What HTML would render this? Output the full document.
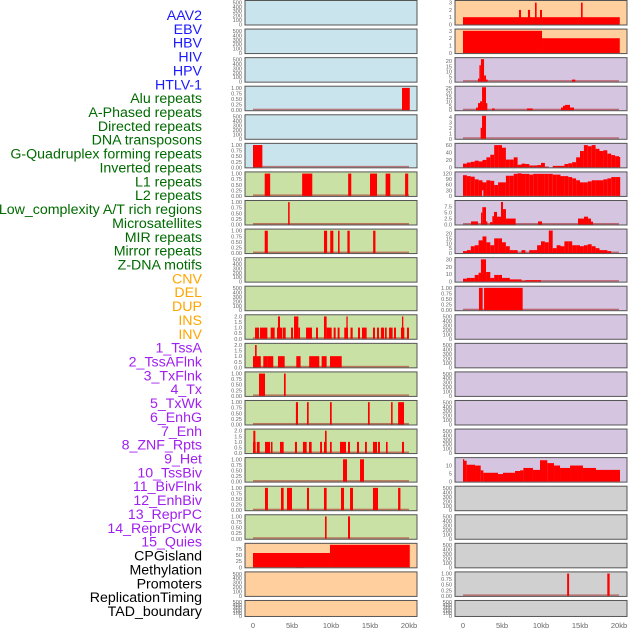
<!DOCTYPE html>
<html><head><meta charset="utf-8"><style>
html,body{margin:0;padding:0;background:#fff;}
svg{display:block;font-family:"Liberation Sans",sans-serif;}
</style></head><body>
<svg id="chart" width="630" height="630" viewBox="0 0 630 630"></svg>
<script>
// ---------- labels ----------
const trackLabels = ["AAV2","EBV","HBV","HIV","HPV","HTLV-1","Alu repeats","A-Phased repeats","Directed repeats","DNA transposons","G-Quadruplex forming repeats","Inverted repeats","L1 repeats","L2 repeats","Low_complexity A/T rich regions","Microsatellites","MIR repeats","Mirror repeats","Z-DNA motifs","CNV","DEL","DUP","INS","INV","1_TssA","2_TssAFlnk","3_TxFlnk","4_Tx","5_TxWk","6_EnhG","7_Enh","8_ZNF_Rpts","9_Het","10_TssBiv","11_BivFlnk","12_EnhBiv","13_ReprPC","14_ReprPCWk","15_Quies","CPGisland","Methylation","Promoters","ReplicationTiming","TAD_boundary"];
const labelColorGroups = [[6,"#1a1aff"],[13,"#006a00"],[5,"#ffa500"],[15,"#a020f0"],[5,"#000000"]];
const xTicks = [0,5,10,15,20];
const xTickLabels = ["0","5kb","10kb","15kb","20kb"];

// ---------- tick sets ----------
const ticksEmpty = [0,100,200,300,400,500];
const ticksUnit = [0,0.25,0.5,0.75,1];
const ticksTwo = [0,0.5,1,1.5,2];

// ---------- left column data (segments [startKb,endKb,value]) ----------
const L4 = [[19.1,20.1,1]];
const L6 = [[0,1.2,1]];
const L7 = [[1.5,2.2,1],[6.3,7.6,1],[12.2,12.6,1],[15,15.9,1],[17,17.6,1],[19.5,19.9,1]];
const L8 = [[4.5,4.7,1]];
const L9 = [[1.5,1.9,1],[9.1,9.5,1],[9.9,10.3,1],[10.9,11.1,1],[12.1,12.4,1],[15.4,15.7,1]];
const L12 = [[0.26,0.77,1],[0.9,1.84,1],[2.26,2.78,1],[3.08,3.72,1],[3.2,3.46,2],[3.8,4.19,1],[4.87,5.13,1],[5.26,5.81,2],[5.81,6.03,1],[6.8,7.56,1],[8.08,8.33,1],[9.1,9.44,2],[9.44,10.09,1],[10.34,10.6,1],[10.85,11.1,1],[11.7,12.18,1],[11.97,12.14,2],[12.5,12.78,1],[13.46,13.72,1],[13.97,14.57,1],[15.38,15.64,1],[15.9,16.15,1],[16.4,16.8,1],[16.92,17.14,1],[17.44,17.9,1],[18.08,18.33,1],[18.97,19.4,1],[19.1,19.27,2],[19.74,20,1]];
const L13 = [[0,1.0,1],[0.26,0.47,2],[1.32,1.84,1],[1.84,2.6,1],[3.2,4.06,1],[5.55,6.1,1],[7.2,8.5,1],[8.8,9.44,1],[9.87,11.37,1]];
const L14 = [[0.77,1.54,1],[3.97,4.19,1]];
const L15 = [[5.5,5.77,1],[6.92,7.14,1],[9.87,10.09,1],[14.74,14.96,1],[17.7,17.9,1],[18.6,19.36,1]];
const L16 = [[0,0.34,1],[0.04,0.3,2],[0.5,0.85,1],[1.54,2.18,1],[2.3,2.5,1],[3.46,3.93,1],[5.38,5.64,1],[6.4,6.88,1],[7.18,7.52,1],[8.6,8.85,1],[9.1,9.44,1],[9.23,9.44,2],[9.87,10.09,1],[11.15,11.92,1],[12.18,12.44,1],[13.33,13.59,1],[14.36,14.6,1],[15.38,15.9,1],[16.03,16.28,1],[17.05,17.26,1],[19.1,19.36,1]];
const L17 = [[11.54,12.05,1],[13.72,14.23,1]];
const L18 = [[1.54,1.92,1],[3.59,3.93,1],[4.36,5.0,1],[6.92,7.18,1],[9.1,9.44,1],[11.28,11.67,1],[12.44,12.82,1],[15.38,16.03,1],[18.6,18.9,1]];
const L19 = [[9.23,9.44,1],[12.18,12.44,1]];
const L20 = [[0,9.87,58],[5.5,6.5,55],[9.87,20.1,91]];

// ---------- right column data ----------
const R1 = [[0,20.1,1],[7.18,7.44,2],[8.33,8.6,2],[9.87,10.13,2],[9.23,9.44,3],[15.13,15.34,3]];
const R2 = [[0,10.13,3],[10.13,20.1,2]];
const R3 = [[1.92,2.1,3],[2.1,2.3,16],[2.3,2.7,22],[2.7,2.95,6],[2.95,3.16,2],[13.97,14.4,2]];
const R4 = [[1.67,1.92,3],[1.92,2.18,8],[2.18,2.44,10],[2.44,2.95,26],[2.95,3.12,8],[3.72,4.06,2],[8.2,8.93,2],[12.56,12.82,3],[12.82,13.08,5],[13.08,13.72,6],[13.72,14.23,3]];
const R5 = [[2.26,2.44,2],[2.44,2.95,4.2]];
const R6bins = [10,13,15,18,16,20,27,34,60,60,53,21,21,27,7,10,9,5,5,6,12,2,0,4,4,4,9,11,14,27,44,60,57,60,50,44,46,37,33,30,28];
const R7bins = [110,105,102,88,83,72,83,80,58,72,72,107,107,117,120,117,117,113,117,117,117,117,117,113,113,105,105,100,93,83,72,72,77,83,83,83,88,93,100,100,100];
const R7 = [[2.45,2.6,30]];
const R8 = [[1.03,1.92,1.3],[2.31,2.48,5],[2.48,2.95,7.3],[2.95,3.12,1.3],[3.46,3.76,1],[3.76,3.97,3.5],[3.97,4.36,5.3],[4.36,4.87,3.3],[4.87,5.13,9.5],[5.13,5.51,6.5],[5.51,6.75,2.5],[9.62,10.13,1.3],[14.74,15.51,2.5],[15.51,16.03,3.3],[16.03,16.41,2.5],[16.41,16.67,1.2]];
const R9bins = [2,3,7,8,13,17,11,8,15,15,11,7,3,3,0,3,0,3,3,8,12,11,23,5,8,7,12,12,8,8,7,8,9,7,5,3,3,2,0,0];
const R10bins = [4,5,5,9,12,13,13,5,9,9,5,5,3,3,3,1,2,2,2,2];
const R10 = [[2.3,2.95,30]];
const R11 = [[2.05,2.52,1],[2.7,7.65,1]];
const R17 = [[0,0.13,14],[0.13,0.47,13],[0.47,1.54,10.5],[1.54,2.27,10],[2.27,2.61,7],[2.61,4.49,5.5],[4.49,5.13,4.7],[5.13,6.67,5.5],[6.67,7.31,6.6],[7.31,7.74,7],[7.74,8.97,8.5],[8.97,9.87,7.3],[9.87,10.81,13.3],[10.81,11.67,11.5],[11.67,12.44,10],[12.44,13.72,8.5],[13.72,15.38,10],[15.38,17.05,8.5],[17.05,20.13,7.3]];
const R21 = [[13.35,13.6,1],[18.5,18.8,1]];

const BLUE="#c9e4ec", GREEN="#c9e1a5", PEACH="#ffd09e", PURPLE="#d5c5e1", GREY="#d0d0d0";

function binsToSegs(b){const o=[];for(let i=0;i<b.length;i++){o.push([i*0.5,Math.min(i*0.5+0.5,20.1),b[i]]);}return o;}

const panels = [
 {c:0,r:0,bg:BLUE},{c:0,r:1,bg:BLUE},{c:0,r:2,bg:BLUE},
 {c:0,r:3,bg:BLUE,t:ticksUnit,d:2,m:1.03,s:L4},
 {c:0,r:4,bg:BLUE},
 {c:0,r:5,bg:BLUE,t:ticksUnit,d:2,m:1.03,s:L6},
 {c:0,r:6,bg:GREEN,t:ticksUnit,d:2,m:1.03,s:L7},
 {c:0,r:7,bg:GREEN,t:ticksUnit,d:2,m:1.03,s:L8},
 {c:0,r:8,bg:GREEN,t:ticksUnit,d:2,m:1.03,s:L9},
 {c:0,r:9,bg:GREEN},{c:0,r:10,bg:GREEN},
 {c:0,r:11,bg:GREEN,t:ticksTwo,d:1,m:2.06,s:L12},
 {c:0,r:12,bg:GREEN,t:ticksTwo,d:1,m:2.06,s:L13},
 {c:0,r:13,bg:GREEN,t:ticksUnit,d:2,m:1.03,s:L14},
 {c:0,r:14,bg:GREEN,t:ticksUnit,d:2,m:1.03,s:L15},
 {c:0,r:15,bg:GREEN,t:ticksTwo,d:1,m:2.06,s:L16},
 {c:0,r:16,bg:GREEN,t:ticksUnit,d:2,m:1.03,s:L17},
 {c:0,r:17,bg:GREEN,t:ticksUnit,d:2,m:1.03,s:L18},
 {c:0,r:18,bg:GREEN,t:ticksUnit,d:2,m:1.03,s:L19},
 {c:0,r:19,bg:PEACH,t:[0,25,50,75],d:0,m:93,s:L20,nb:true},
 {c:0,r:20,bg:PEACH},{c:0,r:21,bg:PEACH},
 {c:1,r:0,bg:PEACH,t:[0,1,2,3],d:0,m:3.15,s:R1,nb:true},
 {c:1,r:1,bg:PEACH,t:[0,1,2,3],d:0,m:3.1,s:R2,nb:true},
 {c:1,r:2,bg:PURPLE,t:[0,5,10,15,20],d:0,m:22.5,s:R3},
 {c:1,r:3,bg:PURPLE,t:[0,5,10,15,20,25],d:0,m:26,s:R4},
 {c:1,r:4,bg:PURPLE,t:[0,1,2,3,4],d:0,m:4.2,s:R5},
 {c:1,r:5,bg:PURPLE,t:[0,20,40,60],d:0,m:62,s:binsToSegs(R6bins),nb:true},
 {c:1,r:6,bg:PURPLE,t:[0,30,60,90,120],d:0,m:122,s:binsToSegs(R7bins).concat(R7),nb:true,lite:true},
 {c:1,r:7,bg:PURPLE,t:[0,2.5,5,7.5],d:1,m:9.7,s:R8},
 {c:1,r:8,bg:PURPLE,t:[0,5,10,15,20],d:0,m:23.5,s:binsToSegs(R9bins)},
 {c:1,r:9,bg:PURPLE,t:[0,10,20,30],d:0,m:31,s:binsToSegs(R10bins).concat(R10)},
 {c:1,r:10,bg:PURPLE,t:ticksUnit,d:2,m:1.03,s:R11},
 {c:1,r:11,bg:PURPLE},{c:1,r:12,bg:PURPLE},{c:1,r:13,bg:PURPLE},{c:1,r:14,bg:PURPLE},{c:1,r:15,bg:PURPLE},
 {c:1,r:16,bg:PURPLE,t:[0,5,10],d:0,m:14.3,s:R17,nb:true},
 {c:1,r:17,bg:GREY},{c:1,r:18,bg:GREY},{c:1,r:19,bg:GREY},
 {c:1,r:20,bg:GREY,t:ticksUnit,d:2,m:1.03,s:R21},
 {c:1,r:21,bg:GREY}
];

const NS="http://www.w3.org/2000/svg";
const svg=document.getElementById('chart');
function mk(tag,attrs,parent){const e=document.createElementNS(NS,tag);for(const k in attrs)e.setAttribute(k,attrs[k]);(parent||svg).appendChild(e);return e;}

const colLeft=[245,455], colW=172, dataX0=[253,463], kbPx=7.8;
function rowTop(r){return 0.5+28.57*r;}
function rowH(r){return r===21?16:24.5;}
function xScale(c,kb){return dataX0[c]+kb*kbPx;}

let li=0;
labelColorGroups.forEach(g=>{
  for(let k=0;k<g[0];k++){
    const t=mk('text',{x:202,y:(20+13.86*li).toFixed(1),'text-anchor':'end','font-size':'14.2',fill:g[1]});
    
    
    t.textContent=trackLabels[li];li++;
  }
});

panels.forEach((p,pi)=>{
  const g=mk('g',{});
  
  
  const top=rowTop(p.r),h=rowH(p.r),x0=colLeft[p.c];
  const bottom=top+h-0.5;
  const bgRect=mk('rect',{x:x0,y:top,width:colW,height:h,fill:p.bg},g);
  
  
  const ticks=p.t||ticksEmpty, ymax=p.m||520, dec=p.t?p.d:0;
  const yS=v=>bottom-(v/ymax)*(h-1.5);
  ticks.forEach(v=>{
    const tt=mk('text',{x:x0-3,y:(yS(v)+2).toFixed(1),'text-anchor':'end','font-size':'5.6',fill:'#666'},g);
    
    
    tt.textContent=v.toFixed(dec);
  });
  if(p.s){
    if(!p.nb){
      const bl=mk('rect',{x:xScale(p.c,0),y:bottom-1.5,width:20*kbPx,height:1.5,fill:'rgba(170,30,30,0.55)'},g);
      
      
    }
    p.s.forEach(s=>{
      const x1=xScale(p.c,s[0]),x2=xScale(p.c,s[1]),y=yS(s[2]);
      const b=mk('rect',{x:x1.toFixed(2),y:y.toFixed(2),width:Math.max(1.2,x2-x1).toFixed(2),height:(bottom-y).toFixed(2),fill:(p.lite&&s[2]===30)?PURPLE:'#ff0000'},g);
      
      
    });
  }
  const br=mk('rect',{x:x0,y:top,width:colW,height:h,fill:'none',stroke:'#555','stroke-width':1},g);
  
  
});

[0,1].forEach(c=>{
  xTicks.forEach((v,i)=>{
    const t=mk('text',{x:xScale(c,v),y:628,'text-anchor':'middle','font-size':'7.5',fill:'#666'});
    
    
    t.textContent=xTickLabels[i];
  });
});
</script>
</body></html>
